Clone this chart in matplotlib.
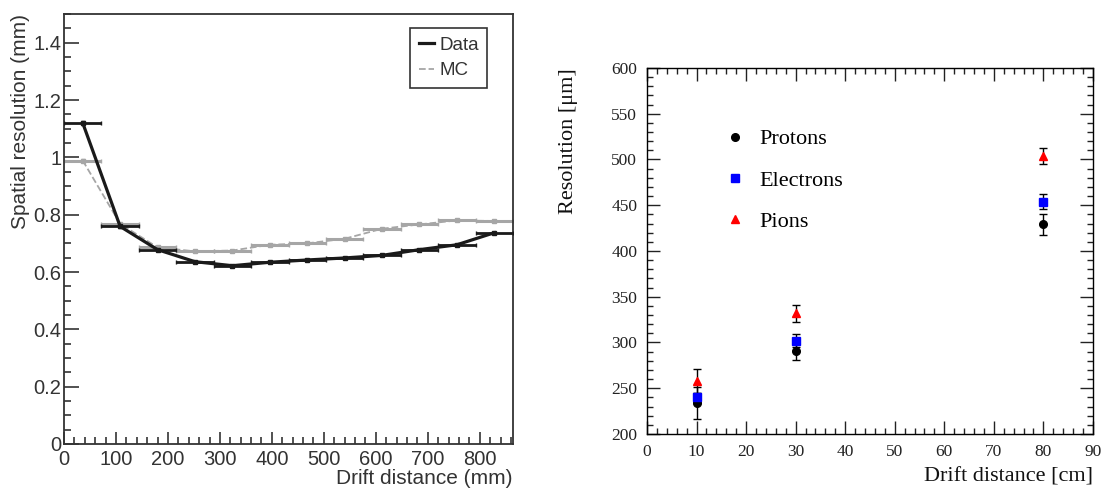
import numpy as np
import matplotlib
matplotlib.use('Agg')
import matplotlib.pyplot as plt
from matplotlib.ticker import MultipleLocator, FuncFormatter
from matplotlib.lines import Line2D

# left panel: spatial resolution vs drift distance (mm)
bin_centers_mm = [36, 108, 180, 252, 324, 396, 468, 540, 612, 684, 756, 828]
bin_half_width = 36
data_res = [1.120, 0.759, 0.678, 0.636, 0.622, 0.634, 0.642, 0.649, 0.658, 0.678, 0.695, 0.737]
mc_res = [0.989, 0.768, 0.686, 0.672, 0.675, 0.695, 0.700, 0.716, 0.751, 0.766, 0.780, 0.778]
res_err = [0.006, 0.004, 0.003, 0.003, 0.003, 0.003, 0.003, 0.003, 0.003, 0.003, 0.003, 0.004]

# right panel: resolution vs drift distance (cm)
drift_cm = [10, 30, 80]
protons = [234, 291, 429]
protons_err = [17.5, 10, 11]
electrons = [240, 302, 454]
electrons_err = [5, 7, 8]
pions = [258, 332, 504]
pions_err = [12.7, 9.5, 9]

txt = '#333333'
fig = plt.figure(figsize=(11.02, 4.88), dpi=100)

# ---------- left
ax1 = fig.add_axes([0.0581, 0.0902, 0.4074, 0.881])
gray = '#a6a6a6'
ax1.errorbar(bin_centers_mm, mc_res, xerr=bin_half_width, yerr=res_err, fmt='s', ms=2.5,
             color=gray, ecolor=gray, elinewidth=2.2, capsize=1.5, zorder=2)
ax1.plot(bin_centers_mm, mc_res, '--', color=gray, lw=1.3, zorder=2)
ax1.errorbar(bin_centers_mm, data_res, xerr=bin_half_width, yerr=res_err, fmt='s', ms=2.5,
             color='#1a1a1a', ecolor='#1a1a1a', elinewidth=2.0, capsize=1.5, zorder=3)
ax1.plot(bin_centers_mm, data_res, '-', color='#1a1a1a', lw=2.3, zorder=3)

ax1.set_xlim(0, 864)
ax1.set_ylim(0, 1.5)
ax1.xaxis.set_major_locator(MultipleLocator(100))
ax1.xaxis.set_minor_locator(MultipleLocator(20))
ax1.yaxis.set_major_locator(MultipleLocator(0.2))
ax1.yaxis.set_minor_locator(MultipleLocator(0.05))
ax1.yaxis.set_major_formatter(FuncFormatter(lambda v, p: '%g' % round(v, 2)))
ax1.tick_params(which='both', direction='in', colors=txt, labelsize=14.5, width=1.2)
ax1.tick_params(axis='y', which='major', length=10.5, pad=2)
ax1.tick_params(axis='y', which='minor', length=5)
ax1.tick_params(axis='x', which='major', length=9, pad=4)
ax1.tick_params(axis='x', which='minor', length=5)
for lab in ax1.get_xticklabels() + ax1.get_yticklabels():
    lab.set_family('Liberation Sans')
for s in ax1.spines.values():
    s.set_color(txt)
    s.set_linewidth(1.3)
ax1.set_xlabel('Drift distance (mm)', loc='right', fontsize=15, color=txt,
               family='Liberation Sans', labelpad=0)
ax1.set_ylabel('Spatial resolution (mm)', loc='top', fontsize=15, color=txt,
               family='Liberation Sans', labelpad=2)

handles = [Line2D([], [], color='#1a1a1a', lw=2.3),
           Line2D([], [], color=gray, lw=1.3, ls='--')]
leg1 = ax1.legend(handles, ['Data', 'MC'], loc='upper left', bbox_to_anchor=(0.771, 0.967),
                  borderaxespad=0, fancybox=False, framealpha=1, edgecolor=txt,
                  handlelength=0.8, handletextpad=0.3, borderpad=0.45, labelspacing=0.45,
                  prop={'family': 'Liberation Sans', 'size': 13.5})
leg1.get_frame().set_linewidth(1.2)
for t in leg1.get_texts():
    t.set_color(txt)

# ---------- right
ax2 = fig.add_axes([0.5871, 0.1107, 0.4047, 0.75])
ax2.errorbar(drift_cm, protons, yerr=protons_err, fmt='o', ms=5.5, color='black',
             ecolor='black', elinewidth=1, capsize=3, label='Protons')
ax2.errorbar(drift_cm, electrons, yerr=electrons_err, fmt='s', ms=6, color='blue',
             ecolor='black', elinewidth=1, capsize=3, label='Electrons')
ax2.errorbar(drift_cm, pions, yerr=pions_err, fmt='^', ms=6, color='red',
             ecolor='black', elinewidth=1, capsize=3, label='Pions')

ax2.set_xlim(0, 90)
ax2.set_ylim(200, 600)
ax2.xaxis.set_major_locator(MultipleLocator(10))
ax2.xaxis.set_minor_locator(MultipleLocator(2))
ax2.yaxis.set_major_locator(MultipleLocator(50))
ax2.yaxis.set_minor_locator(MultipleLocator(10))
ax2.tick_params(which='both', direction='in', top=True, right=True, labelsize=12.5,
                colors='#222222', width=1)
ax2.tick_params(which='major', length=9.5, pad=7)
ax2.tick_params(which='minor', length=4.5)
for lab in ax2.get_xticklabels() + ax2.get_yticklabels():
    lab.set_family('Liberation Serif')
for s in ax2.spines.values():
    s.set_linewidth(1)
ax2.set_xlabel('Drift distance [cm]', loc='right', fontsize=16, family='Liberation Serif',
               color='#111111', labelpad=5.5)
ax2.set_ylabel('Resolution [μm]', loc='top', fontsize=16, family='Liberation Serif',
               color='#111111', labelpad=24)

h, l = ax2.get_legend_handles_labels()
h = [x[0] for x in h]
leg2 = ax2.legend(h, l, loc='upper left', bbox_to_anchor=(0.178, 0.834), frameon=False,
                  borderaxespad=0, borderpad=0, numpoints=1, handlelength=0.8,
                  handletextpad=0.7, labelspacing=0.93,
                  prop={'family': 'Liberation Serif', 'size': 16})

fig.savefig('out.png', dpi=100)
